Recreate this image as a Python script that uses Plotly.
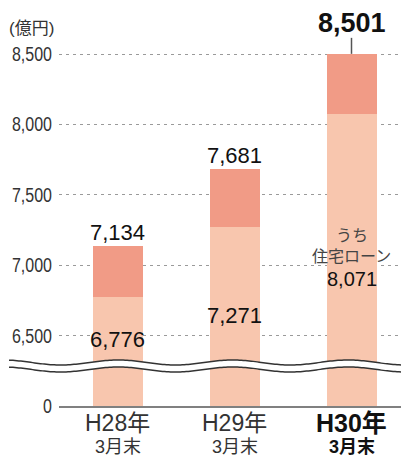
import numpy as np
import plotly.graph_objects as go

# ---- data ----
periods = ["H28年", "H29年", "H30年"]
period_sub = ["3月末", "3月末", "3月末"]
totals = [7134, 7681, 8501]          # 残高合計（億円）
housing = [6776, 7271, 8071]         # うち住宅ローン（億円）
other = [t - h for t, h in zip(totals, housing)]
tick_vals = [6000, 6500, 7000, 7500, 8000, 8500]
tick_text = ["0", "6,500", "7,000", "7,500", "8,000", "8,500"]

W, H = 401, 457
L, R, T, B = 59, 0, 0, 51
plot_w = W - L - R
plot_h = H - T - B
unit_per_px = 2500 / 352.0
y_min = 6000
y_max = y_min + plot_h * unit_per_px
cat_px = 117.0
x_min = -0.5
x_max = x_min + plot_w / cat_px
bar_w = 50 / cat_px

def px(p):   # pixel x -> paper x
    return (p - L) / plot_w

def py(p):   # pixel y -> paper y
    return (H - B - p) / plot_h

def val(p):  # pixel y -> data y
    return y_min + (H - B - p) * unit_per_px

xs = list(range(len(periods)))
c_low = "#F8C6AE"
c_top = "#F19B86"

fig = go.Figure()
fig.add_trace(go.Bar(x=xs, y=housing, width=bar_w, marker=dict(color=c_low, line=dict(width=0)),
                     hoverinfo="skip"))
fig.add_trace(go.Bar(x=xs, y=other, width=bar_w, marker=dict(color=c_top, line=dict(width=0)),
                     hoverinfo="skip"))

num_font = "Liberation Sans, Arial, sans-serif"
jp_font = "Liberation Sans, Noto Sans CJK JP, sans-serif"

fig.update_layout(
    width=W, height=H, barmode="stack", showlegend=False,
    margin=dict(l=L, r=R, t=T, b=B, pad=0),
    paper_bgcolor="white", plot_bgcolor="white",
    xaxis=dict(range=[x_min, x_max], showgrid=False, zeroline=False, showticklabels=False,
               showline=True, linecolor="#808080", linewidth=2, ticks="", fixedrange=True),
    yaxis=dict(range=[y_min, y_max], tickvals=tick_vals, ticktext=tick_text,
               showgrid=True, gridcolor="#9a9a9a", gridwidth=1, griddash="3px,4px",
               zeroline=False, showline=False, ticks="", ticklabelstandoff=6,
               tickfont=dict(family="Liberation Sans, sans-serif", size=20, color="#333"),
               fixedrange=True),
)

ann = []
# unit label
ann.append(dict(x=px(7), y=py(29), xref="paper", yref="paper", text="(億円)", showarrow=False,
                xanchor="left", yanchor="middle",
                font=dict(family=jp_font, size=17, color="#333")))
# total labels
top_shift = [14, 14, 31]
for i, t in enumerate(totals):
    bold = i == len(totals) - 1
    ann.append(dict(x=xs[i], y=t, xref="x", yref="y", yshift=top_shift[i],
                    text=(f"<b>{t:,}</b>" if bold else f"{t:,}"), showarrow=False,
                    xanchor="center", yanchor="middle",
                    font=dict(family=num_font, size=27 if bold else 22, color="#111")))
# housing loan labels
inner_py = [339, 315, 279]
for i, h in enumerate(housing):
    ann.append(dict(x=xs[i], y=py(inner_py[i]), xref="x", yref="paper", text=f"{h:,}",
                    showarrow=False, xanchor="center", yanchor="middle",
                    font=dict(family=num_font, size=22 if i < 2 else 20, color="#111")))
ann.append(dict(x=xs[2], y=py(235), xref="x", yref="paper", text="うち", showarrow=False,
                xanchor="center", yanchor="middle", font=dict(family=jp_font, size=16, color="#444")))
ann.append(dict(x=xs[2], y=py(256), xref="x", yref="paper", text="住宅ローン", showarrow=False,
                xanchor="center", yanchor="middle", font=dict(family=jp_font, size=16, color="#444")))
# category labels
for i, (p, s) in enumerate(zip(periods, period_sub)):
    bold = i == len(periods) - 1
    ann.append(dict(x=xs[i], y=py(423), xref="x", yref="paper",
                    text=(f"<b>{p}</b>" if bold else p), showarrow=False,
                    xanchor="center", yanchor="middle",
                    font=dict(family=jp_font, size=25 if bold else 23, color="#111" if bold else "#333")))
    ann.append(dict(x=xs[i], y=py(447), xref="x", yref="paper",
                    text=(f"<b>{s}</b>" if bold else s), showarrow=False,
                    xanchor="center", yanchor="middle",
                    font=dict(family=jp_font, size=18, color="#111" if bold else "#333")))
fig.update_layout(annotations=ann)

shapes = []
# leader line for last total
shapes.append(dict(type="line", xref="x", yref="y", x0=xs[2], x1=xs[2],
                   y0=totals[2], y1=totals[2] + 16 * unit_per_px,
                   line=dict(color="#555", width=1.5), layer="above"))
# axis-break wave
wx = np.linspace(9, W, 200)
phase = np.sin(2 * np.pi * (wx - 3) / 115.0 + np.pi / 2)
upper = 362.5 - 2.5 * phase
lower = 369.5 - 2.5 * phase
def path(xp, yp):
    return "M " + " L ".join(f"{px(a):.5f},{val(b):.3f}" for a, b in zip(xp, yp))
fill_path = path(np.concatenate([wx, wx[::-1]]), np.concatenate([upper, lower[::-1]])) + " Z"
shapes.append(dict(type="path", xref="paper", yref="y", path=fill_path,
                   fillcolor="white", line=dict(width=0), layer="above"))
for arr in (upper, lower):
    shapes.append(dict(type="path", xref="paper", yref="y", path=path(wx, arr),
                       line=dict(color="#333", width=1.5), layer="above"))
fig.update_layout(shapes=shapes)

post = """
document.body.style.margin='0px';
document.body.style.overflow='hidden';
var gd = document.querySelector('.plotly-graph-div');
function squeezeTicks(){
  gd.querySelectorAll('.ytick text').forEach(function(t){
    if (t.getAttribute('data-sq')) return;
    var bb = t.getBBox();
    var x = bb.x + bb.width;
    var tr = t.getAttribute('transform') || '';
    t.setAttribute('transform', tr + ' translate(' + x + ',0) scale(0.8,1) translate(' + (-x) + ',0)');
    t.setAttribute('data-sq', '1');
  });
}
squeezeTicks();
"""
fig.write_html("out.html", config={"displayModeBar": False}, post_script=post)
